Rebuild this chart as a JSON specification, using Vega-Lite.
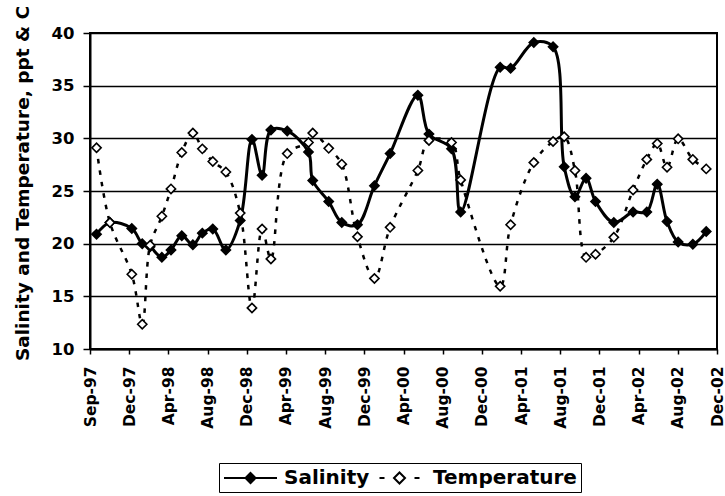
{
  "$schema": "https://vega.github.io/schema/vega-lite/v6.json",
  "width": 627,
  "height": 316,
  "autosize": {"type": "none"},
  "padding": {"left": 90, "top": 33, "right": 8, "bottom": 147},
  "background": "white",
  "config": {
    "view": {"stroke": "black", "strokeWidth": 2},
    "font": "DejaVu Sans",
    "legend": {
      "title": null,
      "orient": "none",
      "legendX": 129,
      "legendY": 430,
      "direction": "horizontal",
      "strokeColor": "black",
      "fillColor": "white",
      "padding": 4,
      "symbolSize": 400,
      "symbolOffset": 16.5,
      "symbolStrokeColor": "black",
      "symbolFillColor": "white",
      "symbolStrokeWidth": 2,
      "symbolOpacity": 1,
      "labelFont": "DejaVu Sans",
      "labelFontSize": 20,
      "labelFontWeight": "bold",
      "labelColor": "black",
      "labelOffset": 22.5,
      "columnPadding": 2
    }
  },
  "data": {
    "values": [
      {"date": "1997-09-21", "series": "Salinity", "value": 20.9},
      {"date": "1997-11-01", "series": "Salinity", "value": 22.0},
      {"date": "1998-01-07", "series": "Salinity", "value": 21.45},
      {"date": "1998-02-08", "series": "Salinity", "value": 20.0},
      {"date": "1998-03-04", "series": "Salinity", "value": 19.7},
      {"date": "1998-04-09", "series": "Salinity", "value": 18.7},
      {"date": "1998-05-07", "series": "Salinity", "value": 19.4},
      {"date": "1998-06-09", "series": "Salinity", "value": 20.75},
      {"date": "1998-07-13", "series": "Salinity", "value": 19.9},
      {"date": "1998-08-11", "series": "Salinity", "value": 21.0},
      {"date": "1998-09-12", "series": "Salinity", "value": 21.4},
      {"date": "1998-10-22", "series": "Salinity", "value": 19.4},
      {"date": "1998-12-05", "series": "Salinity", "value": 22.2},
      {"date": "1999-01-10", "series": "Salinity", "value": 29.9},
      {"date": "1999-02-10", "series": "Salinity", "value": 26.5},
      {"date": "1999-03-09", "series": "Salinity", "value": 30.8},
      {"date": "1999-04-28", "series": "Salinity", "value": 30.7},
      {"date": "1999-07-02", "series": "Salinity", "value": 28.7},
      {"date": "1999-07-15", "series": "Salinity", "value": 26.0},
      {"date": "1999-09-02", "series": "Salinity", "value": 24.0},
      {"date": "1999-10-12", "series": "Salinity", "value": 22.0},
      {"date": "1999-11-29", "series": "Salinity", "value": 21.8},
      {"date": "2000-01-20", "series": "Salinity", "value": 25.5},
      {"date": "2000-03-08", "series": "Salinity", "value": 28.55},
      {"date": "2000-06-01", "series": "Salinity", "value": 34.1},
      {"date": "2000-07-05", "series": "Salinity", "value": 30.4},
      {"date": "2000-09-12", "series": "Salinity", "value": 29.0},
      {"date": "2000-10-10", "series": "Salinity", "value": 23.0},
      {"date": "2001-02-08", "series": "Salinity", "value": 36.75},
      {"date": "2001-03-12", "series": "Salinity", "value": 36.65},
      {"date": "2001-05-22", "series": "Salinity", "value": 39.1},
      {"date": "2001-07-20", "series": "Salinity", "value": 38.7},
      {"date": "2001-08-23", "series": "Salinity", "value": 27.3},
      {"date": "2001-09-25", "series": "Salinity", "value": 24.45},
      {"date": "2001-10-29", "series": "Salinity", "value": 26.2},
      {"date": "2001-11-27", "series": "Salinity", "value": 24.0},
      {"date": "2002-01-22", "series": "Salinity", "value": 22.0},
      {"date": "2002-03-22", "series": "Salinity", "value": 23.0},
      {"date": "2002-05-03", "series": "Salinity", "value": 23.0},
      {"date": "2002-06-04", "series": "Salinity", "value": 25.65},
      {"date": "2002-07-04", "series": "Salinity", "value": 22.1},
      {"date": "2002-08-07", "series": "Salinity", "value": 20.15},
      {"date": "2002-09-21", "series": "Salinity", "value": 19.95},
      {"date": "2002-11-01", "series": "Salinity", "value": 21.15},
      {"date": "1997-09-21", "series": "Temperature", "value": 29.1},
      {"date": "1997-11-01", "series": "Temperature", "value": 22.0},
      {"date": "1998-01-07", "series": "Temperature", "value": 17.1},
      {"date": "1998-02-08", "series": "Temperature", "value": 12.35},
      {"date": "1998-03-04", "series": "Temperature", "value": 19.85},
      {"date": "1998-04-09", "series": "Temperature", "value": 22.6},
      {"date": "1998-05-07", "series": "Temperature", "value": 25.2},
      {"date": "1998-06-09", "series": "Temperature", "value": 28.65},
      {"date": "1998-07-13", "series": "Temperature", "value": 30.5},
      {"date": "1998-08-11", "series": "Temperature", "value": 29.0},
      {"date": "1998-09-12", "series": "Temperature", "value": 27.8},
      {"date": "1998-10-22", "series": "Temperature", "value": 26.8},
      {"date": "1998-12-05", "series": "Temperature", "value": 22.9},
      {"date": "1999-01-10", "series": "Temperature", "value": 13.9},
      {"date": "1999-02-10", "series": "Temperature", "value": 21.4},
      {"date": "1999-03-09", "series": "Temperature", "value": 18.55},
      {"date": "1999-04-28", "series": "Temperature", "value": 28.55},
      {"date": "1999-07-02", "series": "Temperature", "value": 29.6},
      {"date": "1999-07-15", "series": "Temperature", "value": 30.5},
      {"date": "1999-09-02", "series": "Temperature", "value": 29.05},
      {"date": "1999-10-12", "series": "Temperature", "value": 27.55},
      {"date": "1999-11-29", "series": "Temperature", "value": 20.65},
      {"date": "2000-01-20", "series": "Temperature", "value": 16.7},
      {"date": "2000-03-08", "series": "Temperature", "value": 21.55},
      {"date": "2000-06-01", "series": "Temperature", "value": 26.95},
      {"date": "2000-07-05", "series": "Temperature", "value": 29.8},
      {"date": "2000-09-12", "series": "Temperature", "value": 29.6},
      {"date": "2000-10-10", "series": "Temperature", "value": 26.05},
      {"date": "2001-02-08", "series": "Temperature", "value": 15.95},
      {"date": "2001-03-12", "series": "Temperature", "value": 21.8},
      {"date": "2001-05-22", "series": "Temperature", "value": 27.7},
      {"date": "2001-07-20", "series": "Temperature", "value": 29.7},
      {"date": "2001-08-23", "series": "Temperature", "value": 30.15},
      {"date": "2001-09-25", "series": "Temperature", "value": 26.95},
      {"date": "2001-10-29", "series": "Temperature", "value": 18.7},
      {"date": "2001-11-27", "series": "Temperature", "value": 19.0},
      {"date": "2002-01-22", "series": "Temperature", "value": 20.6},
      {"date": "2002-03-22", "series": "Temperature", "value": 25.1},
      {"date": "2002-05-03", "series": "Temperature", "value": 28.0},
      {"date": "2002-06-04", "series": "Temperature", "value": 29.5},
      {"date": "2002-07-04", "series": "Temperature", "value": 27.25},
      {"date": "2002-08-07", "series": "Temperature", "value": 29.95},
      {"date": "2002-09-21", "series": "Temperature", "value": 28.0},
      {"date": "2002-11-01", "series": "Temperature", "value": 27.1}
    ]
  },
  "encoding": {
    "x": {
      "field": "date",
      "type": "temporal",
      "scale": {
        "type": "utc",
        "domain": [
          {"year": 1997, "month": 9, "date": 1, "utc": true},
          {"year": 2002, "month": 12, "date": 4, "utc": true}
        ]
      },
      "axis": {
        "title": null,
        "grid": false,
        "values": [
          {"year": 1997, "month": 9, "date": 1, "utc": true},
          {"year": 1997, "month": 12, "date": 30, "utc": true},
          {"year": 1998, "month": 4, "date": 29, "utc": true},
          {"year": 1998, "month": 8, "date": 27, "utc": true},
          {"year": 1998, "month": 12, "date": 25, "utc": true},
          {"year": 1999, "month": 4, "date": 24, "utc": true},
          {"year": 1999, "month": 8, "date": 22, "utc": true},
          {"year": 1999, "month": 12, "date": 20, "utc": true},
          {"year": 2000, "month": 4, "date": 18, "utc": true},
          {"year": 2000, "month": 8, "date": 16, "utc": true},
          {"year": 2000, "month": 12, "date": 14, "utc": true},
          {"year": 2001, "month": 4, "date": 13, "utc": true},
          {"year": 2001, "month": 8, "date": 11, "utc": true},
          {"year": 2001, "month": 12, "date": 9, "utc": true},
          {"year": 2002, "month": 4, "date": 8, "utc": true},
          {"year": 2002, "month": 8, "date": 6, "utc": true},
          {"year": 2002, "month": 12, "date": 4, "utc": true}
        ],
        "format": "%b-%y",
        "labelAngle": -90,
        "labelFont": "DejaVu Sans",
        "labelFontSize": 15.5,
        "labelFontWeight": "bold",
        "labelColor": "black",
        "labelPadding": 12,
        "labelOverlap": false,
        "labelFlush": false,
        "labelBound": false,
        "tickColor": "black",
        "tickSize": 5,
        "tickWidth": 1.5,
        "domainColor": "black",
        "domainWidth": 2
      }
    },
    "y": {
      "field": "value",
      "type": "quantitative",
      "scale": {"domain": [10, 40], "nice": false, "zero": false},
      "axis": {
        "values": [10, 15, 20, 25, 30, 35, 40],
        "grid": true,
        "gridColor": "black",
        "gridWidth": 1.3,
        "gridOpacity": 1,
        "tickColor": "black",
        "tickSize": 7,
        "tickWidth": 1.5,
        "domainColor": "black",
        "domainWidth": 2,
        "labelFont": "DejaVu Sans",
        "labelFontSize": 16.5,
        "labelFontWeight": "bold",
        "labelColor": "black",
        "labelPadding": 9,
        "title": "Salinity and Temperature, ppt & C",
        "titleFont": "DejaVu Sans",
        "titleFontSize": 18.5,
        "titleFontWeight": "bold",
        "titleColor": "black",
        "titleAngle": -90,
        "titleAlign": "center",
        "titleBaseline": "alphabetic",
        "titleX": -62,
        "titleY": 150
      }
    }
  },
  "layer": [
    {
      "transform": [{"filter": "datum.series === 'Salinity'"}],
      "mark": {"type": "line", "interpolate": "catmull-rom", "color": "black", "strokeWidth": 3}
    },
    {
      "transform": [{"filter": "datum.series === 'Temperature'"}],
      "mark": {"type": "line", "interpolate": "catmull-rom", "color": "black", "strokeWidth": 2.5, "strokeDash": [4.5, 7]}
    },
    {
      "mark": {"type": "point", "shape": "diamond", "size": 85, "stroke": "black", "strokeWidth": 1.6, "opacity": 1},
      "encoding": {
        "fill": {
          "field": "series",
          "type": "nominal",
          "scale": {"domain": ["Salinity", "Temperature"], "range": ["black", "white"]}
        }
      }
    },
    {
      "mark": {"type": "point", "opacity": 0, "stroke": "black", "strokeWidth": 2},
      "encoding": {
        "fill": {
          "field": "series",
          "type": "nominal",
          "scale": {"domain": ["Salinity", "Temperature"], "range": ["black", "white"]}
        },
        "shape": {
          "field": "series",
          "type": "nominal",
          "scale": {
            "domain": ["Salinity", "Temperature"],
            "range": [
              "M-2.65,0H2.65M0,-0.5L0.5,0L0,0.5L-0.5,0Z",
              "M-2,0H-1.5M1.5,0H2M0,-0.55L0.55,0L0,0.55L-0.55,0Z"
            ]
          }
        }
      }
    }
  ]
}
